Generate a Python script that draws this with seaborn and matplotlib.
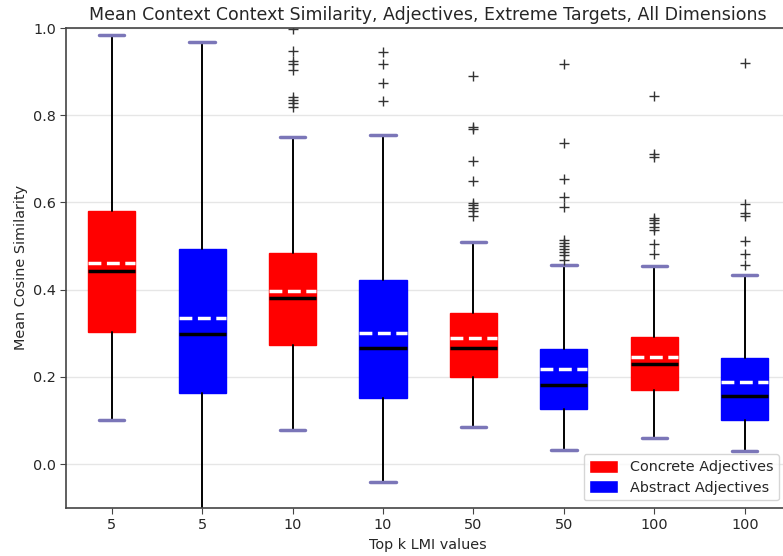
import matplotlib
matplotlib.use("Agg")
import matplotlib.pyplot as plt
from matplotlib.patches import Patch
import seaborn as sns

# Top-k LMI groups, one concrete and one abstract box per k
tick_labels = ["5", "5", "10", "10", "50", "50", "100", "100"]
groups = ["Concrete", "Abstract"] * 4

# Box statistics of the mean cosine similarity per group
q1 = [0.302, 0.164, 0.274, 0.152, 0.199, 0.126, 0.169, 0.101]
medians = [0.442, 0.298, 0.382, 0.267, 0.267, 0.181, 0.229, 0.157]
q3 = [0.581, 0.494, 0.485, 0.422, 0.346, 0.265, 0.291, 0.244]
means = [0.461, 0.334, 0.397, 0.301, 0.288, 0.217, 0.245, 0.189]
whisker_low = [0.100, -0.150, 0.079, -0.041, 0.086, 0.033, 0.060, 0.031]
whisker_high = [0.984, 0.967, 0.749, 0.754, 0.510, 0.456, 0.454, 0.434]
outliers = [
    [],
    [],
    [0.998, 0.947, 0.924, 0.917, 0.903, 0.842, 0.834, 0.827, 0.819],
    [0.945, 0.917, 0.874, 0.833],
    [0.890, 0.772, 0.769, 0.694, 0.649, 0.598, 0.593, 0.587, 0.580, 0.570],
    [0.917, 0.737, 0.654, 0.612, 0.589, 0.514, 0.507, 0.500, 0.494, 0.487,
     0.480, 0.468],
    [0.843, 0.710, 0.704, 0.564, 0.559, 0.552, 0.543, 0.537, 0.504, 0.482],
    [0.919, 0.597, 0.575, 0.570, 0.511, 0.482, 0.457],
]

group_colors = {"Concrete": "#ff0000", "Abstract": "#0000ff"}

sns.set_style("ticks")
plt.rcParams["font.family"] = ["DejaVu Sans"]

fig = plt.figure(figsize=(7.83, 5.56), dpi=100)
ax = fig.add_axes([0.0849, 0.0869, 0.924, 0.8627])

stats = []
for i in range(len(tick_labels)):
    stats.append(dict(
        med=medians[i], q1=q1[i], q3=q3[i], mean=means[i],
        whislo=whisker_low[i], whishi=whisker_high[i],
        fliers=outliers[i], label=tick_labels[i],
    ))

bp = ax.bxp(
    stats,
    positions=range(1, len(stats) + 1),
    widths=0.52,
    capwidths=0.28,
    patch_artist=True,
    showmeans=True,
    meanline=True,
    boxprops=dict(linewidth=1.0),
    whiskerprops=dict(color="black", linewidth=1.4),
    capprops=dict(color="#7b76b8", linewidth=2.5),
    medianprops=dict(color="black", linewidth=2.5),
    meanprops=dict(color="white", linewidth=2.5, linestyle="--"),
    flierprops=dict(marker="+", markeredgecolor="#333333",
                    markersize=7, markeredgewidth=1.0),
)
for patch, grp in zip(bp["boxes"], groups):
    patch.set_facecolor(group_colors[grp])
    patch.set_edgecolor(group_colors[grp])

ax.set_xlim(0.5, 8.5)
ax.set_ylim(-0.1, 1.0)
ax.set_yticks([0.0, 0.2, 0.4, 0.6, 0.8, 1.0])
ax.yaxis.grid(True, color="#e6e6e6", linewidth=1.0)
ax.set_axisbelow(True)
for side in ["left", "bottom", "top", "right"]:
    ax.spines[side].set_color("#444444")
    ax.spines[side].set_linewidth(1.2)
ax.tick_params(axis="both", labelsize=10.4, color="#444444", length=4)

ax.set_title("Mean Context Context Similarity, Adjectives, Extreme Targets, All Dimensions",
             fontsize=12.5)
ax.set_xlabel("Top k LMI values", fontsize=10.4)
ax.set_ylabel("Mean Cosine Similarity", fontsize=10.4)

handles = [Patch(facecolor=group_colors["Concrete"], label="Concrete Adjectives"),
           Patch(facecolor=group_colors["Abstract"], label="Abstract Adjectives")]
ax.legend(handles=handles, loc="lower right", bbox_to_anchor=(0.995, 0.0),
          fontsize=10.4, frameon=True, handlelength=2.0, handleheight=1.0,
          borderpad=0.4, labelspacing=0.4)

fig.savefig("out.png", dpi=100)
